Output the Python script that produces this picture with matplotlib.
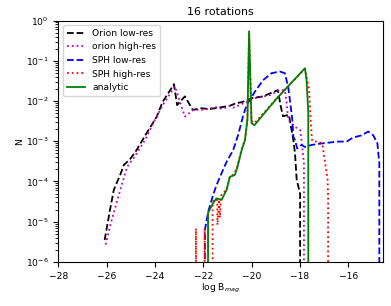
import matplotlib
matplotlib.use('Agg')
import matplotlib.pyplot as plt

# orion low-res
x_ol = [-26.08, -25.86, -25.7, -25.41, -25.28, -25.04, -24.76, -24.34, -23.93, -23.68,
        -23.21, -23.08, -22.76, -22.43, -22.1, -21.73, -21.4, -21.18, -20.9, -20.62,
        -20.41, -20.0, -19.53, -18.91, -18.8, -18.7, -18.45, -18.27, -18.2, -18.13,
        -17.99, -17.98]
n_ol = [3.5e-6, 1.95e-5, 6.2e-5, 1.6e-4, 2.6e-4, 3.5e-4, 6.0e-4, 1.6e-3, 4.0e-3, 9.5e-3,
        2.6e-2, 7.9e-3, 1.3e-2, 6.0e-3, 6.6e-3, 6.3e-3, 6.8e-3, 7.1e-3, 7.6e-3, 8.9e-3,
        9.3e-3, 1.17e-2, 1.3e-2, 1.86e-2, 7.9e-3, 4.2e-3, 4.5e-3, 1.07e-3, 5.0e-4, 1.1e-4,
        5.0e-5, 0]

# orion high-res
x_oh = [-26.04, -25.86, -25.59, -25.35, -25.15, -24.83, -24.41, -24.0, -23.63, -23.17,
        -22.76, -22.41, -22.14, -21.8, -21.5, -21.2, -20.9, -20.77, -20.5, -20.2,
        -19.86, -19.24, -18.83, -18.62, -18.55, -18.48, -18.21, -17.99, -17.93, -17.83,
        -17.8]
n_oh = [2.7e-6, 7.6e-6, 2.9e-5, 9.1e-5, 2.3e-4, 4.2e-4, 1.07e-3, 3.4e-3, 8.7e-3, 2.3e-2,
        4.1e-3, 6.0e-3, 6.0e-3, 6.3e-3, 7.1e-3, 6.3e-3, 7.6e-3, 6.8e-3, 7.9e-3, 9.5e-3,
        1.17e-2, 1.4e-2, 1.86e-2, 1.86e-2, 9.5e-3, 3.4e-3, 2.3e-3, 1.9e-3, 1.07e-3, 2.9e-4,
        0]

# SPH low-res
x_sl = [-21.95, -21.93, -21.79, -21.59, -21.45, -21.24, -21.03, -20.76, -20.55, -20.34,
        -20.2, -19.86, -19.52, -19.17, -18.83, -18.62, -18.48, -18.41, -18.31, -18.27,
        -18.2, -18.11, -17.93, -17.79, -17.51, -17.03, -16.41, -16.06, -15.86, -15.65,
        -15.44, -15.17, -14.96, -14.79, -14.71, -14.7]
n_sl = [0, 6.3e-6, 1.8e-5, 4.6e-5, 8.1e-5, 1.6e-4, 3.1e-4, 6.0e-4, 1.45e-3, 4.5e-3,
        7.9e-3, 1.7e-2, 3.3e-2, 4.9e-2, 5.4e-2, 4.9e-2, 2.2e-2, 1.05e-2, 3.4e-3, 1.3e-3,
        1.07e-3, 6.6e-4, 8.1e-4, 7.2e-4, 8.1e-4, 8.9e-4, 9.8e-4, 9.8e-4, 1.17e-3, 1.3e-3,
        1.4e-3, 1.74e-3, 1.4e-3, 8.9e-4, 2.8e-4, 0]

# SPH high-res
x_sh = [-22.4, -22.3, -22.26, -21.98, -21.94, -21.9, -21.63, -21.61, -21.57, -21.42,
        -21.41, -21.34, -21.31, -21.26, -21.03, -20.9, -20.7, -20.58, -20.41, -20.27,
        -20.17, -20.1, -20.0, -19.88, -18.96, -17.79, -17.62, -17.55, -17.5, -17.45,
        -17.2, -17.06, -16.99, -16.85, -16.83, -16.82]
n_sh = [0, 6.8e-6, 0, 0, 6.8e-6, 0, 0, 2.5e-5, 3.5e-5, 3.5e-5,
        8.3e-6, 3.5e-5, 1.26e-5, 4.5e-5, 6.3e-5, 1.26e-4, 1.6e-4, 2.5e-4, 6.3e-4, 1.12e-3,
        3.5e-3, 0.5, 3.2e-3, 2.8e-3, 1.15e-2, 6.3e-2, 2.0e-2, 3.2e-3, 1.12e-3, 9.8e-4,
        9.8e-4, 8.1e-4, 4.1e-4, 1.1e-4, 4.2e-5, 0]

# analytic
x_an = [-21.83, -21.8, -21.59, -21.45, -21.24, -21.03, -20.9, -20.69, -20.58, -20.41,
        -20.27, -20.17, -20.1, -20.0, -19.88, -18.96, -17.79, -17.72, -17.65, -17.63]
n_an = [0, 1.66e-5, 2.9e-5, 3.8e-5, 3.5e-5, 6.2e-5, 1.3e-4, 1.45e-4, 2.3e-4, 6.0e-4,
        1.07e-3, 3.5e-3, 0.54, 2.8e-3, 2.5e-3, 1.15e-2, 6.5e-2, 3.2e-2, 5.0e-3, 0]

plt.rcParams['font.size'] = 6.6

fig = plt.figure(figsize=(3.91, 3.06), dpi=100)
ax = fig.add_axes([0.149, 0.144, 0.831, 0.789])
ax.set_yscale('log', nonpositive='clip')

lw = 1.3
ax.plot(x_ol, n_ol, color='k', ls='--', lw=lw, label='Orion low-res')
ax.plot(x_oh, n_oh, color='m', ls=':', lw=lw, label='orion high-res')
ax.plot(x_sl, n_sl, color='b', ls='--', lw=lw, label='SPH low-res')
ax.plot(x_sh, n_sh, color='r', ls=':', lw=lw, label='SPH high-res')
ax.plot(x_an, n_an, color='g', ls='-', lw=lw, label='analytic')

ax.set_xlim(-28, -14.55)
ax.set_ylim(1e-6, 1)
ax.set_xticks([-28, -26, -24, -22, -20, -18, -16])
ax.set_xlabel('log B$_{mag}$', labelpad=1)
ax.set_ylabel('N', labelpad=1)
ax.set_title('16 rotations', pad=4)
ax.legend(loc='upper left')

fig.savefig('out.png', dpi=100)
